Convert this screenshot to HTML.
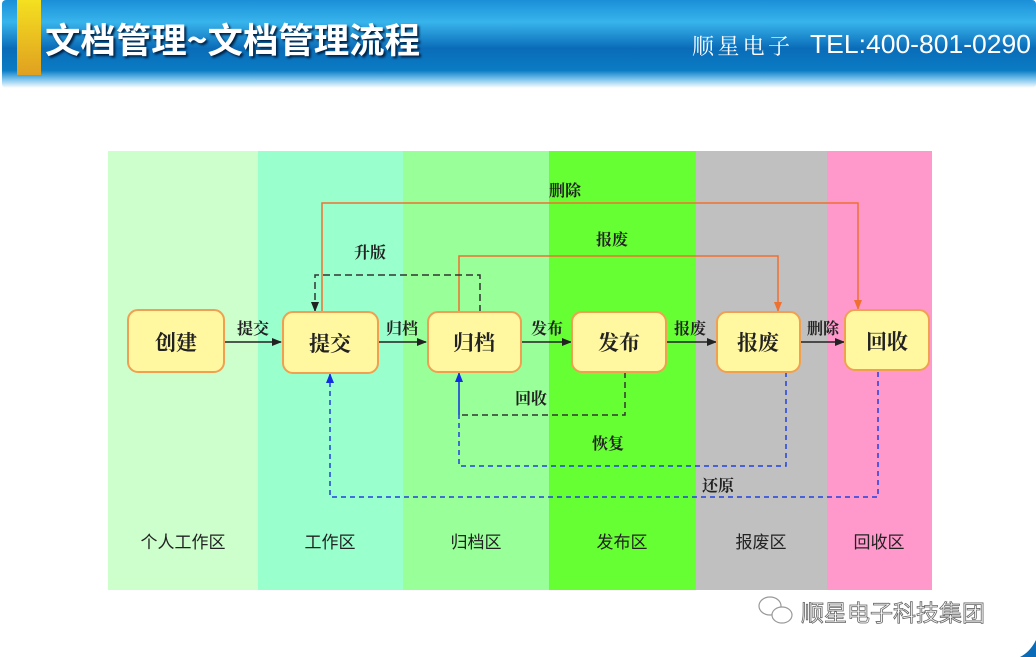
<!DOCTYPE html>
<html><head><meta charset="utf-8"><style>
html,body{margin:0;padding:0;width:1036px;height:657px;overflow:hidden;background:#fff;font-family:"Liberation Sans","Noto Sans CJK SC",sans-serif}
</style></head><body>
<svg width="1036" height="657" xmlns="http://www.w3.org/2000/svg" style="position:absolute;left:0;top:0">
<defs>
<linearGradient id="hb" x1="0" y1="0" x2="0" y2="1">
<stop offset="0" stop-color="#1a8fd8"/>
<stop offset="0.25" stop-color="#38b4ec"/>
<stop offset="0.55" stop-color="#0a6cb8"/>
<stop offset="0.8" stop-color="#0a7cc4"/>
<stop offset="0.9" stop-color="#7cc4ec"/>
<stop offset="1" stop-color="#ffffff"/>
</linearGradient>
<linearGradient id="yb" x1="0" y1="0" x2="0" y2="1">
<stop offset="0" stop-color="#f4e020"/><stop offset="1" stop-color="#e0a020"/>
</linearGradient>
<marker id="ak" markerWidth="10" markerHeight="8" refX="9" refY="4" orient="auto" markerUnits="userSpaceOnUse"><path d="M0,0 L10,4 L0,8 z" fill="#222"/></marker>
<marker id="ao" markerWidth="10" markerHeight="8" refX="9" refY="4" orient="auto" markerUnits="userSpaceOnUse"><path d="M0,0 L10,4 L0,8 z" fill="#f07030"/></marker>
<marker id="ab" markerWidth="10" markerHeight="8" refX="9" refY="4" orient="auto" markerUnits="userSpaceOnUse"><path d="M0,0 L10,4 L0,8 z" fill="#1030e0"/></marker>
</defs>
<rect x="2" y="0" width="1034" height="88" fill="url(#hb)" rx="4"/>
<rect x="17" y="0" width="24" height="75" fill="url(#yb)"/>
<text x="45" y="53" font-size="35" font-weight="bold" fill="#fff" font-family="Noto Sans CJK SC,sans-serif" textLength="375" lengthAdjust="spacingAndGlyphs" style="text-shadow:2px 2px 2px #024">文档管理~文档管理流程</text>
<text x="692" y="54" font-size="22" fill="#fff" font-family="Noto Serif CJK SC,serif" textLength="98" lengthAdjust="spacing">顺星电子</text>
<text x="810" y="53" font-size="26" fill="#fff" font-family="Liberation Sans,sans-serif" textLength="221" lengthAdjust="spacingAndGlyphs">TEL:400-801-0290</text>

<rect x="108" y="151" width="150" height="439" fill="#ccffcc"/>
<rect x="258" y="151" width="145" height="439" fill="#99ffcc"/>
<rect x="403" y="151" width="146" height="439" fill="#99ff99"/>
<rect x="549" y="151" width="147" height="439" fill="#66ff33"/>
<rect x="696" y="151" width="131" height="439" fill="#c0c0c0"/>
<rect x="827" y="151" width="105" height="439" fill="#ff99cc"/>

<g font-family="Noto Sans CJK SC,sans-serif" font-size="17" fill="#222" text-anchor="middle">
<text x="183" y="548">个人工作区</text><text x="330" y="548">工作区</text><text x="476" y="548">归档区</text>
<text x="622" y="548">发布区</text><text x="761" y="548">报废区</text><text x="879" y="548">回收区</text>
</g>

<g fill="none" stroke-width="1.5">
<path d="M322,312 V203 H858 V309" stroke="#f07030" marker-end="url(#ao)"/>
<path d="M459,312 V256 H778 V311" stroke="#f07030" marker-end="url(#ao)"/>
<path d="M480,312 V275 H315 V311" stroke="#333" stroke-dasharray="7,4" marker-end="url(#ak)"/>
<path d="M625,372 V415 H459" stroke="#333" stroke-dasharray="6,4"/>
<path d="M459,415 V373" stroke="#1030e0" marker-end="url(#ab)"/>
<path d="M786,372 V466 H459 V415" stroke="#2040e0" stroke-dasharray="5,4"/>
<path d="M878,372 V497 H330 V374" stroke="#2040e0" stroke-dasharray="5,4" marker-end="url(#ab)"/>
<path d="M212,342 H281" stroke="#222" marker-end="url(#ak)"/>
<path d="M357,342 H426" stroke="#222" marker-end="url(#ak)"/>
<path d="M502,342 H571" stroke="#222" marker-end="url(#ak)"/>
<path d="M646,342 H716" stroke="#222" marker-end="url(#ak)"/>
<path d="M785,342 H844" stroke="#222" marker-end="url(#ak)"/>
</g>

<g fill="#fff8a0" stroke="#f0a050" stroke-width="2">
<rect x="128" y="310" width="96" height="62" rx="10"/>
<rect x="283" y="312" width="95" height="61" rx="10"/>
<rect x="428" y="312" width="93" height="60" rx="10"/>
<rect x="572" y="312" width="94" height="60" rx="10"/>
<rect x="717" y="312" width="83" height="60" rx="10"/>
<rect x="845" y="310" width="84" height="60" rx="10"/>
</g>
<g font-family="Noto Serif CJK SC,serif" font-weight="bold" font-size="21" fill="#222" text-anchor="middle">
<text x="176" y="350">创建</text><text x="330" y="351">提交</text><text x="474" y="350">归档</text>
<text x="619" y="350">发布</text><text x="758" y="350">报废</text><text x="887" y="349">回收</text>
</g>
<g font-family="Noto Serif CJK SC,serif" font-weight="bold" font-size="16" fill="#222" text-anchor="middle">
<text x="253" y="334">提交</text><text x="402" y="334">归档</text><text x="547" y="334">发布</text>
<text x="690" y="334">报废</text><text x="823" y="334">删除</text>
<text x="565" y="196">删除</text><text x="612" y="245">报废</text><text x="370" y="258">升版</text>
<text x="531" y="404">回收</text><text x="608" y="449">恢复</text><text x="718" y="491">还原</text>
</g>

<g stroke="#999" fill="none" stroke-width="1.2">
<ellipse cx="770" cy="606" rx="11" ry="9"/><ellipse cx="782" cy="615" rx="10" ry="8" fill="#fff"/>
</g>
<text x="801" y="621" font-size="23" fill="#fff" stroke="#666" stroke-width="0.8" font-family="Noto Sans CJK SC,sans-serif">顺星电子科技集团</text>
<path d="M1036,640 Q1030,652 1020,657 L1036,657 Z" fill="#0a6cb8"/>
</svg>
</body></html>
